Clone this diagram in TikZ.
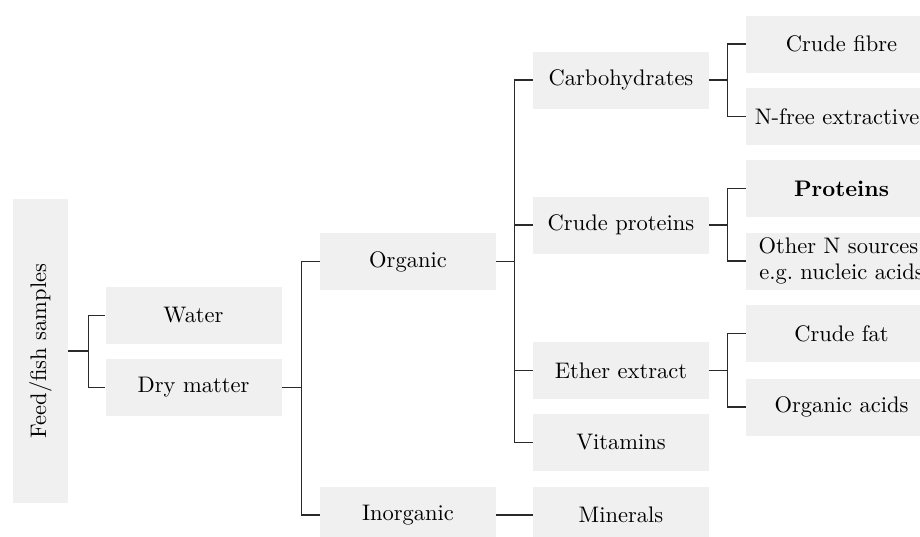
\documentclass[tikz,border=0pt]{standalone}
\usepackage{fontspec}
\setmainfont{lmroman10-regular}[Extension=.otf, BoldFont=lmroman10-bold]
\definecolor{boxgray}{HTML}{F0F0F0}
\definecolor{linegray}{HTML}{2A2A2A}
\begin{document}
\begin{tikzpicture}[x=1pt,y=-1pt,
  box/.style={fill=boxgray, minimum width=176pt, minimum height=57pt, inner sep=0pt,
    font=\fontsize{22.5}{26}\selectfont, text=black, align=center},
  widebox/.style={box, minimum width=191pt},
  conn/.style={draw=linegray, line width=1.4pt}]
\clip (0,0) rectangle (920,536);
\useasboundingbox (0,0) rectangle (920,536);
% column 1
\node[box, minimum width=55pt, minimum height=304pt] (feed) at (40.5,351) {\rotatebox{90}{Feed/fish samples}};
% column 2
\node[box] (water) at (193.5,315.5) {Water};
\node[box] (dry) at (193.5,387.5) {Dry matter};
% column 3
\node[box] (organic) at (408,261.5) {Organic};
\node[box] (inorganic) at (408,515) {Inorganic};
% column 4
\node[box] (carb) at (621,80) {Carbohydrates};
\node[box] (cprot) at (621,225) {Crude proteins};
\node[box] (ether) at (621,370.5) {Ether extract};
\node[box] (vit) at (621,442.5) {Vitamins};
\node[box] (min) at (621,515) {Minerals};
% column 5
\node[widebox] (fibre) at (841.5,44) {Crude fibre};
\node[widebox] (nfree) at (841.5,116.5) {N-free extractives};
\node[widebox] (prot) at (841.5,188.5) {\bfseries Proteins};
\node[widebox] (othern) at (841.5,261) {Other N sources,\\e.g.\ nucleic acids};
\node[widebox] (cfat) at (841.5,333.5) {Crude fat};
\node[widebox] (oacid) at (841.5,407) {Organic acids};
% connectors
\draw[conn] (feed.east) -- ++(20,0) coordinate (j1);
\draw[conn] (j1) |- (water.west);
\draw[conn] (j1) |- (dry.west);
\draw[conn] (dry.east) -- ++(19.5,0) coordinate (j2);
\draw[conn] (j2) |- (organic.west);
\draw[conn] (j2) |- (inorganic.west);
\draw[conn] (organic.east) -- ++(18,0) coordinate (j3);
\draw[conn] (j3) |- (carb.west);
\draw[conn] (j3) |- (cprot.west);
\draw[conn] (j3) |- (ether.west);
\draw[conn] (j3) |- (vit.west);
\draw[conn] (inorganic.east) -- (min.west);
\draw[conn] (carb.east) -- ++(18,0) coordinate (j4);
\draw[conn] (j4) |- (fibre.west);
\draw[conn] (j4) |- (nfree.west);
\draw[conn] (cprot.east) -- ++(18,0) coordinate (j5);
\draw[conn] (j5) |- (prot.west);
\draw[conn] (j5) |- (othern.west);
\draw[conn] (ether.east) -- ++(18,0) coordinate (j6);
\draw[conn] (j6) |- (cfat.west);
\draw[conn] (j6) |- (oacid.west);
\end{tikzpicture}
\end{document}
